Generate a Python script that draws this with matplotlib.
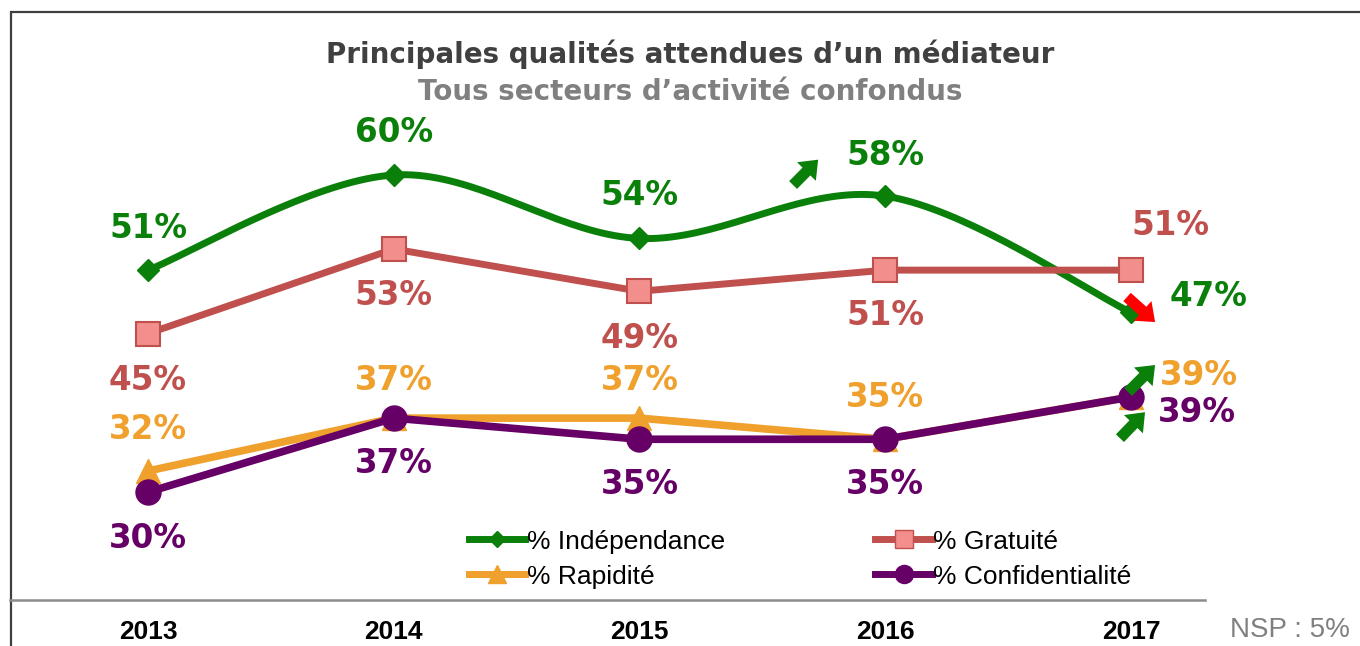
import numpy as np
import matplotlib
matplotlib.use("Agg")
import matplotlib.pyplot as plt
from matplotlib.patches import Rectangle
from matplotlib.lines import Line2D

# data
years = [2013, 2014, 2015, 2016, 2017]
independance = [51, 60, 54, 58, 47]
gratuite = [45, 53, 49, 51, 51]
rapidite = [32, 37, 37, 35, 39]
confidentialite = [30, 37, 35, 35, 39]

title = "Principales qualités attendues d\u2019un médiateur"
subtitle = "Tous secteurs d\u2019activité confondus"
nsp_text = "NSP : 5%"

GREEN = "#0A800A"
RED = "#C0504D"
ORANGE = "#F0A02C"
PURPLE = "#660066"

narrow = ["Liberation Sans Narrow", "Liberation Sans", "DejaVu Sans"]

W, H = 1360, 646
fig = plt.figure(figsize=(W / 100, H / 100), dpi=100)
ax = fig.add_axes([0, 0, 1, 1])
ax.axis("off")

# map so that 2013 sits at x=148px, step 245.75px; 60% at y=175px, 10.57px per point
x0, dx = 148, 245.75
y60, dy = 175, 10.57
ax.set_xlim(2013 - x0 / dx, 2013 + (W - x0) / dx)
ax.set_ylim(60 - (H - y60) / dy, 60 + y60 / dy)


def smooth(xs, ys, n=40):
    # Excel-like smoothed line (Catmull-Rom as cubic Bezier)
    xs = np.asarray(xs, float)
    ys = np.asarray(ys, float)
    px, py = [], []
    for i in range(len(xs) - 1):
        p0 = (xs[max(i - 1, 0)], ys[max(i - 1, 0)])
        p1 = (xs[i], ys[i])
        p2 = (xs[i + 1], ys[i + 1])
        p3 = (xs[min(i + 2, len(xs) - 1)], ys[min(i + 2, len(xs) - 1)])
        c1 = (p1[0] + (p2[0] - p0[0]) / 6, p1[1] + (p2[1] - p0[1]) / 6)
        c2 = (p2[0] - (p3[0] - p1[0]) / 6, p2[1] - (p3[1] - p1[1]) / 6)
        t = np.linspace(0, 1, n)
        bx = ((1 - t) ** 3 * p1[0] + 3 * (1 - t) ** 2 * t * c1[0]
              + 3 * (1 - t) * t ** 2 * c2[0] + t ** 3 * p2[0])
        by = ((1 - t) ** 3 * p1[1] + 3 * (1 - t) ** 2 * t * c1[1]
              + 3 * (1 - t) * t ** 2 * c2[1] + t ** 3 * p2[1])
        px.extend(bx)
        py.extend(by)
    return px, py


sx, sy = smooth(years, independance)
ax.plot(sx, sy, color=GREEN, lw=5, solid_capstyle="round", zorder=3)
ax.plot(years, independance, ls="none", marker="D", ms=11, color=GREEN, zorder=4)

ax.plot(years, gratuite, color=RED, lw=5, marker="s", ms=17,
        mfc="#F28E8C", mec=RED, mew=1.5, zorder=3)
ax.plot(years, rapidite, color=ORANGE, lw=5.5, marker="^", ms=17,
        mfc=ORANGE, mec=ORANGE, zorder=2)
ax.plot(years, confidentialite, color=PURPLE, lw=5.5, marker="o", ms=18,
        mfc=PURPLE, mec=PURPLE, zorder=4)

# value labels, offsets in pixels
lab_kw = dict(textcoords="offset pixels", fontsize=23.5, fontweight="bold",
              family="DejaVu Sans", va="center")
offsets = {
    "ind": [(0, 42), (0, 42), (0, 43), (0, 41), (39, 16)],
    "gra": [(0, -47), (0, -47), (0, -47), (0, -45), (39, 45)],
    "rap": [(0, 41), (0, 38), (0, 38), (0, 42), (29, 21)],
    "con": [(0, -46), (0, -45), (0, -45), (0, -45), (27, -16)],
}
series = [("ind", independance, GREEN), ("gra", gratuite, RED),
          ("rap", rapidite, ORANGE), ("con", confidentialite, PURPLE)]
for key, vals, col in series:
    for i, (yr, v) in enumerate(zip(years, vals)):
        ox, oy = offsets[key][i]
        ha = "center"
        if i == len(years) - 1 and key != "gra":
            ha = "left"
        ax.annotate(f"{v}%", (yr, v), xytext=(ox, oy), color=col, ha=ha, **lab_kw)


# trend arrows (tail position, direction in data units)
def trend(x, y, ddx, ddy, col):
    ax.annotate("", xy=(x + ddx, y + ddy), xytext=(x, y),
                arrowprops=dict(arrowstyle="simple,head_width=0.95,head_length=0.6,tail_width=0.4",
                                mutation_scale=20, color=col, lw=0,
                                shrinkA=0, shrinkB=0), zorder=6)


trend(2015.625, 59.05, 0.102, 2.4, GREEN)
trend(2016.984, 48.46, 0.114, -2.37, "#FF0000")
trend(2016.988, 39.47, 0.11, 2.55, GREEN)
trend(2016.955, 35.1, 0.102, 2.46, GREEN)

# legend
h_ind = Line2D([], [], color=GREEN, lw=5, marker="D", ms=8)
h_gra = Line2D([], [], color=RED, lw=5, marker="s", ms=13, mfc="#F28E8C", mec=RED)
h_rap = Line2D([], [], color=ORANGE, lw=5, marker="^", ms=13)
h_con = Line2D([], [], color=PURPLE, lw=5, marker="o", ms=13)
leg = ax.legend([h_ind, h_rap, h_gra, h_con],
                ["% Indépendance", "% Rapidité", "% Gratuité", "% Confidentialité"],
                ncol=2, loc="upper left", bbox_to_anchor=(458 / W, 1 - 519 / H),
                frameon=False, handlelength=2.15, handletextpad=0.05,
                columnspacing=5.7, labelspacing=0.42, borderaxespad=0,
                prop=dict(family=narrow, size=19))

# titles
fig.text(690 / W, 1 - 54 / H, title, ha="center", va="center",
         fontsize=20, fontweight="bold", color="#404040", family="DejaVu Sans")
fig.text(690 / W, 1 - 92 / H, subtitle, ha="center", va="center",
         fontsize=20, fontweight="bold", color="#808080", family="DejaVu Sans")

# frame and separator
fig.add_artist(Rectangle((11 / W, -0.1), 1.2, 1.1 - 12 / H, transform=fig.transFigure,
                         fill=False, ec="#404040", lw=1.6))
fig.add_artist(Line2D([10 / W, 1205 / W], [1 - 600 / H, 1 - 600 / H],
                      transform=fig.transFigure, color="#8C8C8C", lw=1.8))

for yr in years:
    ax.annotate(str(yr), (yr, 0), xycoords=("data", "figure fraction"),
                xytext=(0, 14), textcoords="offset pixels", ha="center", va="center",
                fontsize=19, fontweight="bold", family=narrow, color="black")
fig.text(1290 / W, 1 - 630 / H, nsp_text, ha="center", va="center",
         fontsize=20, color="#808080", family=narrow)

fig.savefig("out.png", dpi=100)
